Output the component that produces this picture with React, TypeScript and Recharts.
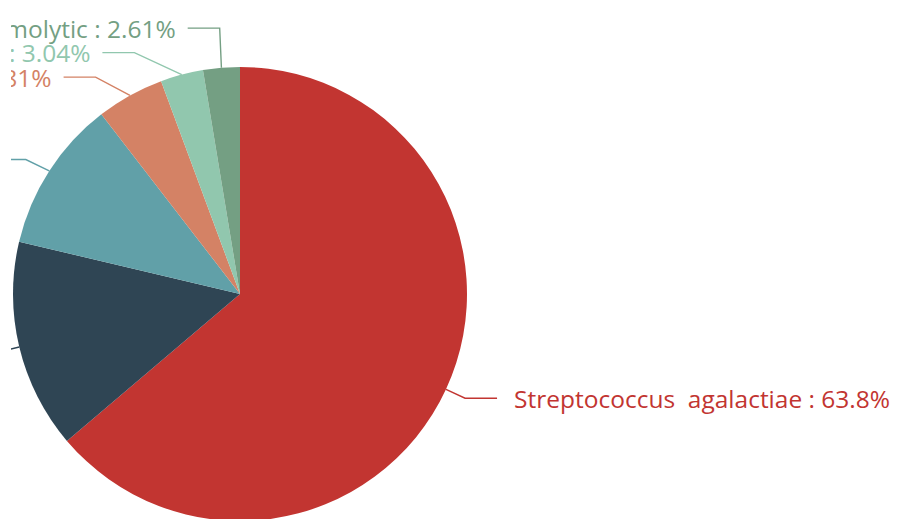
import React from 'react';
import { PieChart, Pie, Cell } from 'recharts';

const names = [
  'Streptococcus  agalactiae',
  'Escherichia coli',
  'Staphylococcus aureus',
  'Enterococcus faecalis',
  'Klebsiella pneumoniae',
  'Streptococcus non-hemolytic',
];
const values = [63.8, 14.9, 10.84, 4.81, 3.04, 2.61];
const colors = ['#c23531', '#2f4554', '#61a0a8', '#d48265', '#91c7ae', '#749f83'];

const data = names.map((name, i) => ({ name, value: values[i] }));

const LEN1 = 21;
const LEN2 = 32;
const GAP_RIGHT = 17;
const GAP_LEFT = 12;
const LINE_H = 24.5;
const FONT_FAMILY = '"Open Sans", "Noto Sans", sans-serif';
const FONT_SIZE = 24.5;

type Item = { i: number; sx: number; sy: number; ex: number; ey: number; dir: number };

function layoutLabels(cx: number, cy: number, r: number): Item[] {
  const total = values.reduce((a, b) => a + b, 0);
  let acc = 0;
  const rA = r + LEN1;
  const items: Item[] = values.map((v, i) => {
    const mid = ((acc + v / 2) / total) * 2 * Math.PI;
    acc += v;
    const s = Math.sin(mid);
    const c = Math.cos(mid);
    return {
      i,
      sx: cx + r * s,
      sy: cy - r * c,
      ex: cx + rA * s,
      ey: cy - rA * c,
      dir: s >= 0 ? 1 : -1,
    };
  });

  [-1, 1].forEach((dir) => {
    const side = items.filter((it) => it.dir === dir);
    let shifted = false;
    if (dir < 0) {
      side.sort((a, b) => b.ey - a.ey);
      for (let k = 1; k < side.length; k++) {
        const lim = side[k - 1].ey - LINE_H;
        if (side[k].ey > lim) {
          side[k].ey = lim;
          shifted = true;
        }
      }
    } else {
      side.sort((a, b) => a.ey - b.ey);
      for (let k = 1; k < side.length; k++) {
        const lim = side[k - 1].ey + LINE_H;
        if (side[k].ey < lim) {
          side[k].ey = lim;
          shifted = true;
        }
      }
    }
    if (!shifted) return;
    const semis = [side.filter((it) => it.ey <= cy), side.filter((it) => it.ey > cy)];
    semis.forEach((semi) => {
      let maxY = -1;
      let rB = rA;
      semi.forEach((it) => {
        const dy = Math.abs(it.ey - cy);
        if (dy >= maxY) {
          const dx = it.ex - cx;
          rB = Math.abs(dx) < rA ? Math.sqrt((dy * dy) / (1 - (dx * dx) / (rA * rA))) : rA;
          maxY = dy;
        }
      });
      semi.forEach((it) => {
        const dy = Math.abs(it.ey - cy);
        const dx = Math.sqrt(Math.max(0, 1 - (dy * dy) / (rB * rB))) * rA;
        it.ex = cx + dir * dx;
      });
    });
  });
  return items;
}

const renderLabel = (props: any) => {
  const { cx, cy, outerRadius, index } = props;
  const items = layoutLabels(cx, cy, outerRadius);
  const it = items[index];
  const color = colors[index];
  const hx = it.ex + it.dir * LEN2;
  const tx = hx + it.dir * (it.dir > 0 ? GAP_RIGHT : GAP_LEFT);
  return (
    <g key={`lbl-${index}`}>
      <polyline
        points={`${it.sx},${it.sy} ${it.ex},${it.ey} ${hx},${it.ey}`}
        fill="none"
        stroke={color}
        strokeWidth={1.4}
      />
      <text
        x={tx}
        y={it.ey}
        fill={color}
        textAnchor={it.dir > 0 ? 'start' : 'end'}
        dominantBaseline="central"
        fontFamily={FONT_FAMILY}
        fontSize={FONT_SIZE}
        style={{ whiteSpace: 'pre' }}
      >
        {`${names[index]} : ${values[index]}%`}
      </text>
    </g>
  );
};

export default function App() {
  return (
    <div
      style={{
        position: 'absolute',
        left: 0,
        top: 0,
        width: 897,
        height: 519,
        overflow: 'hidden',
        background: '#fff',
      }}
    >
      <div style={{ position: 'absolute', left: 11, top: 0, width: 886, height: 519, overflow: 'hidden' }}>
        <PieChart width={886} height={519} margin={{ top: 0, right: 0, bottom: 0, left: 0 }}>
          <Pie
            data={data}
            dataKey="value"
            nameKey="name"
            cx={229}
            cy={294}
            outerRadius={227}
            innerRadius={0}
            startAngle={90}
            endAngle={-270}
            stroke="none"
            label={renderLabel}
            labelLine={false}
            isAnimationActive={false}
          >
            {data.map((d, i) => (
              <Cell key={d.name} fill={colors[i]} />
            ))}
          </Pie>
        </PieChart>
      </div>
    </div>
  );
}
